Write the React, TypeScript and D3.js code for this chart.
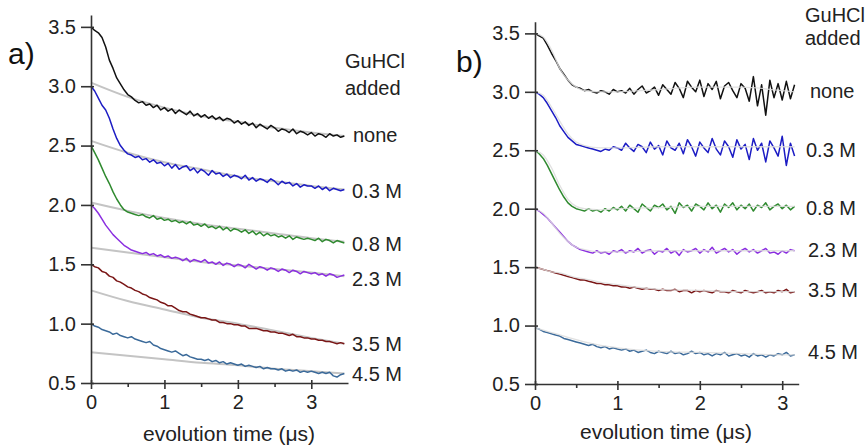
import React, { useEffect, useRef } from 'react';
import * as d3 from 'd3';

// time axis of the traces (μs)
const timeA = [0, 0.05, 0.1, 0.15, 0.2, 0.25, 0.3, 0.35, 0.4, 0.45, 0.5, 0.55, 0.6, 0.65, 0.7, 0.75, 0.8, 0.85, 0.9, 0.95,
    1, 1.05, 1.1, 1.15, 1.2, 1.25, 1.3, 1.35, 1.4, 1.45, 1.5, 1.55, 1.6, 1.65, 1.7, 1.75, 1.8, 1.85, 1.9, 1.95,
    2, 2.05, 2.1, 2.15, 2.2, 2.25, 2.3, 2.35, 2.4, 2.45, 2.5, 2.55, 2.6, 2.65, 2.7, 2.75, 2.8, 2.85, 2.9, 2.95,
    3, 3.05, 3.1, 3.15, 3.2, 3.25, 3.3, 3.35, 3.4, 3.45];
const timeB = [0, 0.05, 0.1, 0.15, 0.2, 0.25, 0.3, 0.35, 0.4, 0.45, 0.5, 0.55, 0.6, 0.65, 0.7, 0.75, 0.8, 0.85, 0.9, 0.95,
    1, 1.05, 1.1, 1.15, 1.2, 1.25, 1.3, 1.35, 1.4, 1.45, 1.5, 1.55, 1.6, 1.65, 1.7, 1.75, 1.8, 1.85, 1.9, 1.95,
    2, 2.05, 2.1, 2.15, 2.2, 2.25, 2.3, 2.35, 2.4, 2.45, 2.5, 2.55, 2.6, 2.65, 2.7, 2.75, 2.8, 2.85, 2.9, 2.95,
    3, 3.05, 3.1, 3.15];
const fitTimeA = [0, 0.5, 1, 1.5, 2, 2.5, 3, 3.45];
const fitTimeB = [0, 0.1, 0.2, 0.3, 0.4, 0.5, 0.6, 0.8, 1, 1.5, 2, 2.5, 3, 3.15];

const labels = ['none', '0.3 M', '0.8 M', '2.3 M', '3.5 M', '4.5 M'];
const colors = ['#111111', '#1c1cc4', '#2f8a2f', '#8b2fe0', '#7a1616', '#3b6a9a'];
const yTicks = [0.5, 1.0, 1.5, 2.0, 2.5, 3.0, 3.5];
const xTicks = [0, 1, 2, 3];
const xMinor = [0.5, 1.5, 2.5];

// panel a) traces
const noneA = [3.50, 3.47, 3.45, 3.41, 3.33, 3.22, 3.15, 3.07, 3.02, 2.97,
    2.93, 2.91, 2.88, 2.86, 2.87, 2.84, 2.85, 2.82, 2.84, 2.80,
    2.82, 2.79, 2.81, 2.77, 2.80, 2.78, 2.76, 2.79, 2.75, 2.77,
    2.74, 2.76, 2.73, 2.75, 2.72, 2.74, 2.71, 2.73, 2.72, 2.69,
    2.71, 2.68, 2.70, 2.67, 2.69, 2.65, 2.68, 2.66, 2.64, 2.67,
    2.65, 2.62, 2.64, 2.63, 2.61, 2.64, 2.60, 2.62, 2.61, 2.59,
    2.61, 2.58, 2.60, 2.59, 2.57, 2.60, 2.58, 2.59, 2.57, 2.58];
const m03A = [3.00, 2.96, 2.90, 2.84, 2.80, 2.73, 2.64, 2.56, 2.50, 2.46,
    2.43, 2.42, 2.40, 2.41, 2.38, 2.39, 2.36, 2.38, 2.35, 2.36,
    2.33, 2.35, 2.31, 2.34, 2.30, 2.32, 2.33, 2.29, 2.31, 2.27,
    2.30, 2.28, 2.25, 2.29, 2.26, 2.27, 2.24, 2.26, 2.23, 2.25,
    2.24, 2.22, 2.25, 2.21, 2.23, 2.20, 2.22, 2.21, 2.19, 2.22,
    2.20, 2.17, 2.20, 2.18, 2.19, 2.16, 2.18, 2.15, 2.17, 2.16,
    2.16, 2.14, 2.16, 2.13, 2.15, 2.12, 2.14, 2.13, 2.12, 2.13];
const m08A = [2.50, 2.44, 2.38, 2.31, 2.24, 2.18, 2.11, 2.05, 2.00, 1.96,
    1.94, 1.93, 1.92, 1.91, 1.92, 1.90, 1.89, 1.91, 1.88, 1.89,
    1.87, 1.88, 1.86, 1.87, 1.85, 1.86, 1.84, 1.86, 1.83, 1.84,
    1.82, 1.84, 1.81, 1.82, 1.80, 1.82, 1.79, 1.81, 1.78, 1.80,
    1.79, 1.77, 1.79, 1.76, 1.78, 1.75, 1.77, 1.74, 1.76, 1.74,
    1.75, 1.73, 1.74, 1.72, 1.74, 1.71, 1.73, 1.72, 1.71, 1.72,
    1.71, 1.70, 1.72, 1.69, 1.71, 1.70, 1.68, 1.70, 1.69, 1.68];
const m23A = [2.00, 1.97, 1.93, 1.88, 1.83, 1.79, 1.75, 1.72, 1.69, 1.66,
    1.64, 1.62, 1.61, 1.60, 1.59, 1.60, 1.58, 1.59, 1.57, 1.58,
    1.56, 1.57, 1.55, 1.56, 1.55, 1.53, 1.55, 1.52, 1.54, 1.53,
    1.52, 1.54, 1.51, 1.52, 1.50, 1.52, 1.49, 1.51, 1.50, 1.48,
    1.50, 1.49, 1.47, 1.50, 1.48, 1.46, 1.48, 1.47, 1.45, 1.47,
    1.46, 1.44, 1.46, 1.45, 1.43, 1.45, 1.44, 1.42, 1.44, 1.43,
    1.42, 1.43, 1.41, 1.42, 1.40, 1.42, 1.41, 1.39, 1.40, 1.41];
const m35A = [1.50, 1.48, 1.47, 1.44, 1.43, 1.40, 1.39, 1.36, 1.35, 1.33,
    1.31, 1.30, 1.28, 1.27, 1.25, 1.24, 1.22, 1.21, 1.20, 1.18,
    1.17, 1.15, 1.15, 1.13, 1.11, 1.10, 1.10, 1.08, 1.07, 1.06,
    1.05, 1.05, 1.04, 1.03, 1.03, 1.01, 1.01, 1.00, 1.00, 0.99,
    0.99, 0.98, 0.98, 0.96, 0.96, 0.96, 0.95, 0.94, 0.94, 0.93,
    0.93, 0.92, 0.92, 0.91, 0.90, 0.91, 0.89, 0.89, 0.88, 0.88,
    0.87, 0.87, 0.86, 0.86, 0.85, 0.85, 0.84, 0.83, 0.84, 0.83];
const m45A = [1.00, 0.98, 0.97, 0.95, 0.94, 0.93, 0.91, 0.92, 0.90, 0.89,
    0.88, 0.89, 0.87, 0.86, 0.85, 0.84, 0.85, 0.82, 0.81, 0.79,
    0.78, 0.77, 0.76, 0.77, 0.75, 0.73, 0.74, 0.72, 0.71, 0.70,
    0.70, 0.69, 0.70, 0.68, 0.69, 0.67, 0.68, 0.66, 0.67, 0.66,
    0.65, 0.66, 0.64, 0.65, 0.64, 0.63, 0.64, 0.62, 0.63, 0.62,
    0.62, 0.61, 0.62, 0.60, 0.61, 0.60, 0.61, 0.59, 0.60, 0.59,
    0.60, 0.59, 0.58, 0.59, 0.58, 0.59, 0.56, 0.55, 0.57, 0.58];

// panel a) fitted slow components (grey)
const fitNoneA = [3.03, 2.91, 2.82, 2.75, 2.70, 2.65, 2.61, 2.58];
const fit03A = [2.54, 2.44, 2.36, 2.30, 2.24, 2.20, 2.16, 2.13];
const fit08A = [2.02, 1.95, 1.89, 1.84, 1.80, 1.76, 1.72, 1.69];
const fit23A = [1.64, 1.60, 1.56, 1.52, 1.49, 1.46, 1.43, 1.40];
const fit35A = [1.28, 1.19, 1.12, 1.05, 1.00, 0.94, 0.88, 0.83];
const fit45A = [0.76, 0.73, 0.70, 0.67, 0.65, 0.62, 0.60, 0.58];

// panel b) traces
const noneB = [3.50, 3.48, 3.46, 3.40, 3.33, 3.27, 3.20, 3.15, 3.10, 3.06,
    3.04, 3.03, 3.01, 3.02, 3.00, 2.99, 3.01, 3.00, 2.98, 3.02,
    3.00, 3.01, 2.99, 3.03, 2.98, 3.02, 3.05, 2.99, 3.01, 3.04,
    2.97, 3.06, 3.02, 2.98, 3.08, 3.03, 2.95, 3.09, 3.04, 3.00,
    3.10, 2.96, 3.07, 3.02, 3.09, 2.94, 3.05, 3.08, 3.01, 2.95,
    3.07, 3.03, 2.92, 3.13, 2.88, 3.06, 2.80, 3.10, 2.95, 3.07,
    2.93, 3.09, 2.94, 3.06];
const m03B = [3.00, 2.98, 2.95, 2.90, 2.84, 2.78, 2.71, 2.66, 2.61, 2.58,
    2.55, 2.54, 2.53, 2.52, 2.51, 2.50, 2.49, 2.51, 2.50, 2.53,
    2.52, 2.50, 2.56, 2.52, 2.49, 2.55, 2.53, 2.48, 2.57, 2.51,
    2.54, 2.46, 2.58, 2.52, 2.50, 2.56, 2.47, 2.59, 2.53, 2.45,
    2.57, 2.52, 2.48, 2.60, 2.51, 2.46, 2.58, 2.53, 2.44, 2.59,
    2.51, 2.55, 2.42, 2.60, 2.50, 2.56, 2.40, 2.58, 2.52, 2.45,
    2.62, 2.37, 2.56, 2.45];
const m08B = [2.50, 2.47, 2.43, 2.37, 2.30, 2.23, 2.16, 2.10, 2.05, 2.02,
    2.00, 1.99, 1.98, 2.00, 1.98, 1.99, 1.97, 2.00, 1.98, 2.01,
    1.99, 2.02, 1.98, 2.03, 2.00, 1.97, 2.04, 2.01, 1.98, 2.03,
    2.01, 2.04, 1.99, 2.02, 1.96, 2.05, 2.01, 2.03, 1.98, 2.04,
    2.02, 1.99, 2.05, 2.00, 2.03, 1.97, 2.04, 2.01, 2.05, 1.99,
    2.03, 2.00, 2.04, 1.98, 2.03, 2.01, 2.05, 1.99, 2.02, 2.04,
    2.00, 2.03, 1.99, 2.02];
const m23B = [2.00, 1.98, 1.95, 1.92, 1.88, 1.84, 1.80, 1.76, 1.72, 1.69,
    1.67, 1.65, 1.64, 1.63, 1.62, 1.64, 1.62, 1.63, 1.61, 1.64,
    1.63, 1.65, 1.62, 1.64, 1.63, 1.66, 1.62, 1.64, 1.65, 1.61,
    1.64, 1.63, 1.66, 1.62, 1.64, 1.60, 1.65, 1.63, 1.64, 1.66,
    1.62, 1.65, 1.63, 1.67, 1.62, 1.64, 1.66, 1.63, 1.65, 1.61,
    1.64, 1.66, 1.63, 1.65, 1.62, 1.64, 1.66, 1.62, 1.63, 1.61,
    1.64, 1.62, 1.65, 1.64];
const m35B = [1.50, 1.49, 1.48, 1.47, 1.46, 1.45, 1.44, 1.43, 1.42, 1.41,
    1.40, 1.39, 1.39, 1.38, 1.37, 1.36, 1.36, 1.35, 1.35, 1.34,
    1.34, 1.33, 1.33, 1.32, 1.33, 1.32, 1.31, 1.32, 1.31, 1.31,
    1.30, 1.31, 1.30, 1.30, 1.31, 1.29, 1.30, 1.30, 1.28, 1.30,
    1.29, 1.30, 1.29, 1.28, 1.30, 1.29, 1.29, 1.28, 1.30, 1.29,
    1.28, 1.30, 1.29, 1.28, 1.29, 1.30, 1.28, 1.29, 1.28, 1.30,
    1.29, 1.31, 1.28, 1.29];
const m45B = [0.98, 0.97, 0.95, 0.94, 0.93, 0.92, 0.91, 0.89, 0.88, 0.87,
    0.86, 0.85, 0.84, 0.83, 0.84, 0.82, 0.81, 0.82, 0.80, 0.81,
    0.80, 0.79, 0.80, 0.78, 0.79, 0.77, 0.78, 0.79, 0.77, 0.76,
    0.78, 0.77, 0.76, 0.78, 0.76, 0.77, 0.75, 0.76, 0.78, 0.76,
    0.77, 0.75, 0.76, 0.74, 0.76, 0.75, 0.77, 0.74, 0.75, 0.76,
    0.74, 0.75, 0.73, 0.76, 0.74, 0.75, 0.73, 0.75, 0.74, 0.76,
    0.75, 0.77, 0.74, 0.75];

// panel b) fits
const fitNoneB = [3.50, 3.47, 3.36, 3.20, 3.10, 3.04, 3.01, 3.00, 3.00, 3.02, 3.04, 3.04, 3.01, 3.00];
const fit03B = [3.00, 2.97, 2.87, 2.75, 2.64, 2.57, 2.54, 2.52, 2.52, 2.53, 2.53, 2.53, 2.53, 2.53];
const fit08B = [2.50, 2.46, 2.35, 2.20, 2.08, 2.02, 2.00, 1.99, 2.00, 2.01, 2.02, 2.02, 2.02, 2.02];
const fit23B = [2.00, 1.96, 1.88, 1.79, 1.72, 1.67, 1.65, 1.63, 1.63, 1.64, 1.64, 1.64, 1.64, 1.64];
const fit35B = [1.50, 1.48, 1.46, 1.45, 1.43, 1.41, 1.40, 1.37, 1.35, 1.31, 1.30, 1.29, 1.29, 1.29];
const fit45B = [0.98, 0.96, 0.94, 0.92, 0.90, 0.88, 0.86, 0.83, 0.81, 0.78, 0.77, 0.76, 0.75, 0.75];

const FONT = '"Liberation Sans", Arial, Helvetica, sans-serif';

const panels = [
    {
        tag: 'a)', tagPos: [8, 64],
        xDomain: [0, 3.5], xRange: [91, 348], yRange: [383, 15],
        time: timeA, traces: [noneA, m03A, m08A, m23A, m35A, m45A],
        fitTime: fitTimeA, fits: [fitNoneA, fit03A, fit08A, fit23A, fit35A, fit45A],
        fitOnTop: false,
        headPos: [345, 68, 95],
        labelPos: [[353, 142], [352, 198], [352, 251], [352, 286], [352, 351], [352, 381]],
        titleX: 229, titleY: 441,
    },
    {
        tag: 'b)', tagPos: [456, 72],
        xDomain: [0, 3.2], xRange: [535, 798.7], yRange: [384, 21.7],
        time: timeB, traces: [noneB, m03B, m08B, m23B, m35B, m45B],
        fitTime: fitTimeB, fits: [fitNoneB, fit03B, fit08B, fit23B, fit35B, fit45B],
        fitOnTop: true,
        headPos: [805, 22, 45],
        labelPos: [[810, 98], [806, 157], [806, 215], [808, 257], [808, 297], [808, 359]],
        titleX: 666, titleY: 439,
    },
];

function drawPanel(svg, p) {
    const x = d3.scaleLinear().domain(p.xDomain).range(p.xRange);
    const y = d3.scaleLinear().domain([0.5, 3.6]).range(p.yRange);
    const g = svg.append('g');

    const trace = d3.line().x((d, i) => x(p.time[i])).y((d) => y(d));
    const fit = d3.line().x((d, i) => x(p.fitTime[i])).y((d) => y(d)).curve(d3.curveMonotoneX);

    const drawFits = () => {
        p.fits.forEach((f) => {
            g.append('path')
                .datum(f)
                .attr('fill', 'none')
                .attr('stroke', p.fitOnTop ? '#dcdcdc' : '#c4c4c4')
                .attr('stroke-width', p.fitOnTop ? 1.3 : 2)
                .attr('stroke-opacity', p.fitOnTop ? 0.85 : 1)
                .attr('d', fit);
        });
    };

    if (!p.fitOnTop) drawFits();
    p.traces.forEach((t, k) => {
        g.append('path')
            .datum(t)
            .attr('fill', 'none')
            .attr('stroke', colors[k])
            .attr('stroke-width', 1.5)
            .attr('stroke-linejoin', 'round')
            .attr('d', trace);
    });
    if (p.fitOnTop) drawFits();

    const y0 = p.yRange[0];

    // ticks cross the axis lines a little
    const ya = g.append('g')
        .attr('transform', `translate(${p.xRange[0]},0)`)
        .call(d3.axisLeft(y).tickValues(yTicks).tickFormat(d3.format('.1f')).tickSize(10).tickSizeOuter(0).tickPadding(5));
    ya.selectAll('.tick line').attr('x1', 3);
    const xa = g.append('g')
        .attr('transform', `translate(0,${y0})`)
        .call(d3.axisBottom(x).tickValues(xTicks).tickFormat(d3.format('d')).tickSize(6).tickSizeOuter(0).tickPadding(6));
    xa.selectAll('.tick line').attr('y1', -3);
    const xm = g.append('g')
        .attr('transform', `translate(0,${y0})`)
        .call(d3.axisBottom(x).tickValues(xMinor).tickFormat(() => '').tickSize(4).tickSizeOuter(0));
    xm.select('.domain').remove();

    [ya, xa, xm].forEach((a) => {
        a.selectAll('path, line').attr('stroke', '#333').attr('stroke-width', 1.6);
        a.selectAll('text').attr('font-family', FONT).attr('font-size', 20).attr('fill', '#222');
    });

    g.append('text')
        .attr('x', p.titleX).attr('y', p.titleY)
        .attr('text-anchor', 'middle')
        .attr('font-family', FONT).attr('font-size', 21).attr('fill', '#222')
        .text('evolution time (μs)');

    g.append('text')
        .attr('x', p.tagPos[0]).attr('y', p.tagPos[1])
        .attr('font-family', FONT).attr('font-size', 30).attr('fill', '#111')
        .text(p.tag);

    const head = g.append('text')
        .attr('font-family', FONT).attr('font-size', 20).attr('fill', '#222');
    head.append('tspan').attr('x', p.headPos[0]).attr('y', p.headPos[1]).text('GuHCl');
    head.append('tspan').attr('x', p.headPos[0]).attr('y', p.headPos[2]).text('added');

    labels.forEach((l, k) => {
        g.append('text')
            .attr('x', p.labelPos[k][0]).attr('y', p.labelPos[k][1])
            .attr('font-family', FONT).attr('font-size', 20).attr('fill', '#222')
            .text(l);
    });
}

export default function App() {
    const ref = useRef(null);

    useEffect(() => {
        const svg = d3.select(ref.current);
        svg.selectAll('*').remove();
        panels.forEach((p) => drawPanel(svg, p));
    }, []);

    return (
        <svg
            ref={ref}
            width={868}
            height={448}
            style={{ position: 'absolute', left: 0, top: 0, background: '#fff' }}
        />
    );
}
